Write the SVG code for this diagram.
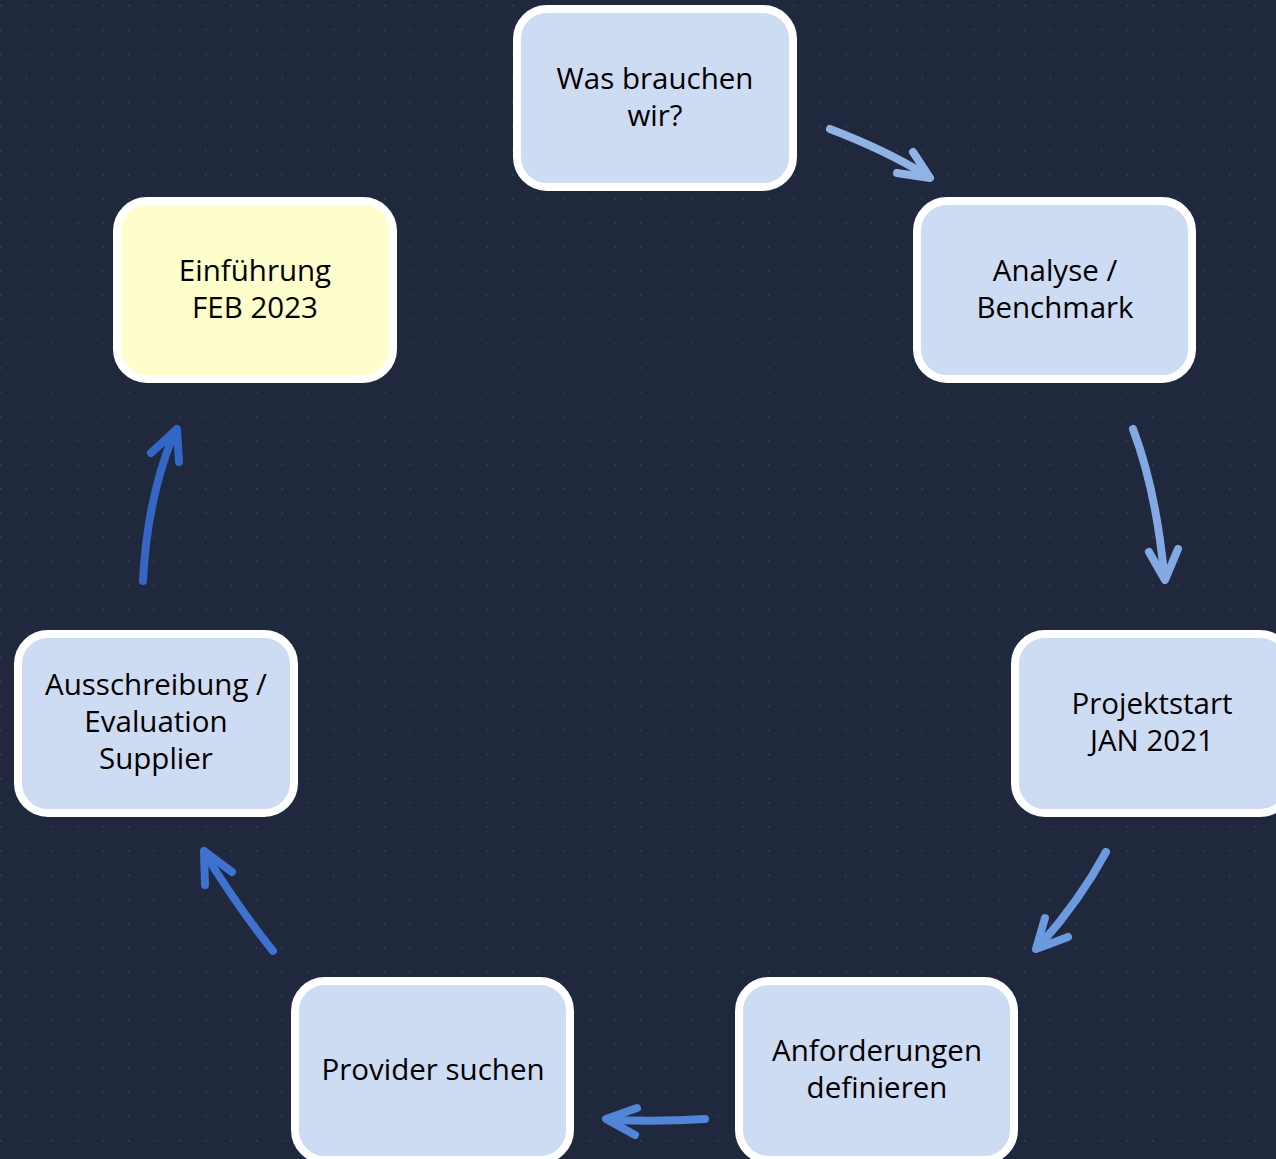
<svg xmlns="http://www.w3.org/2000/svg" width="1276" height="1159" viewBox="0 0 1276 1159">
<defs>
<pattern id="dots" x="0" y="5" width="25.6" height="24.15" patternUnits="userSpaceOnUse">
<rect x="0" y="0" width="1.5" height="1.5" fill="#3a4358"/>
</pattern>
<style>
.node rect{fill:#cddbf3;stroke:#ffffff;stroke-width:8}
.node.hl rect{fill:#fefecc}
.node text{font-family:"Open Sans","Noto Sans",sans-serif;font-size:29.5px;fill:#000000;text-anchor:middle}
.conn path{fill:none;stroke-width:8;stroke-linecap:round;stroke-linejoin:round}
</style>
</defs>
<rect width="1276" height="1159" fill="#1f283d"/>
<rect width="1276" height="1159" fill="url(#dots)"/>

<g id="connectors" class="conn">
<g id="c1" stroke="#8fb3e4"><path d="M830,129 Q885,150 926,175"/><path d="M913,152 L930,178 L897,173"/></g>
<g id="c2" stroke="#84a9e2"><path d="M1133,429 Q1156,490 1164,574"/><path d="M1149,552 L1165,580 L1178,549"/></g>
<g id="c3" stroke="#6c9ade"><path d="M1106,852 Q1080,900 1041,944"/><path d="M1045,918 L1036,949 L1068,937"/></g>
<g id="c4" stroke="#5285d8"><path d="M705,1119 Q660,1122 611,1120"/><path d="M637,1108 L606,1119 L635,1135"/></g>
<g id="c5" stroke="#3f72cf"><path d="M273,951 Q240,910 207,857"/><path d="M232,872 L204,851 L205,885"/></g>
<g id="c6" stroke="#3566c6"><path d="M143,581 Q147,500 173,436"/><path d="M151,453 L177,429 L179,462"/></g>
</g>

<g id="n1" class="node"><rect x="517" y="9" width="276" height="178" rx="30"/><text x="655" y="89">Was brauchen</text><text x="655" y="126">wir?</text></g>
<g id="n2" class="node"><rect x="917" y="201" width="275" height="178" rx="30"/><text x="1055" y="281">Analyse /</text><text x="1055" y="318">Benchmark</text></g>
<g id="n3" class="node"><rect x="1015" y="634" width="275" height="179" rx="30"/><text x="1152" y="714">Projektstart</text><text x="1152" y="751">JAN 2021</text></g>
<g id="n4" class="node"><rect x="739" y="981" width="275" height="179" rx="30"/><text x="877" y="1061">Anforderungen</text><text x="877" y="1098">definieren</text></g>
<g id="n5" class="node"><rect x="295" y="981" width="275" height="179" rx="30"/><text x="433" y="1080">Provider suchen</text></g>
<g id="n6" class="node"><rect x="18" y="634" width="276" height="179" rx="30"/><text x="156" y="695">Ausschreibung /</text><text x="156" y="732">Evaluation</text><text x="156" y="769">Supplier</text></g>
<g id="n7" class="node hl"><rect x="117" y="201" width="276" height="178" rx="30"/><text x="255" y="281">Einführung</text><text x="255" y="318">FEB 2023</text></g>
</svg>
